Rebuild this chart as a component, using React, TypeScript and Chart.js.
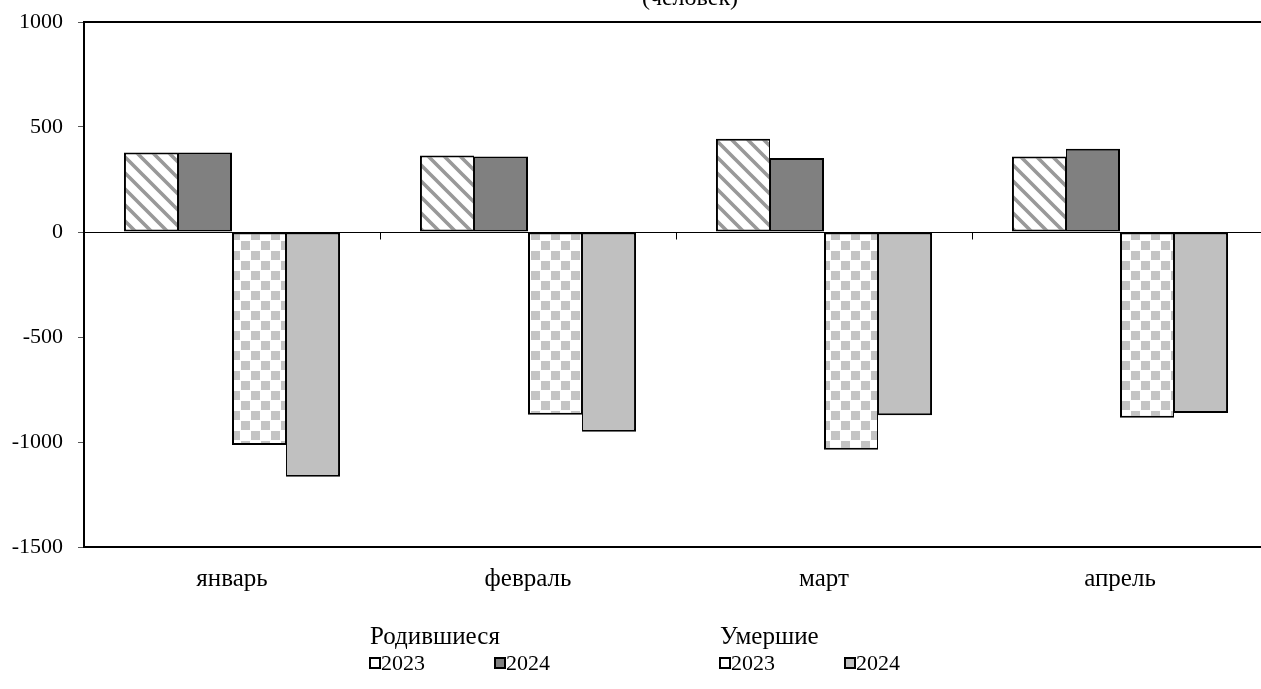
import React, { useEffect, useRef } from "react";
import { Chart, registerables } from "chart.js";

Chart.register(...registerables);

const categories = ["январь", "февраль", "март", "апрель"];
const births2023 = [379, 364, 444, 359];
const births2024 = [379, 359, 352, 397];
const deaths2023 = [-1014, -870, -1037, -884];
const deaths2024 = [-1165, -951, -873, -862];
const seriesLabels = ["2023", "2024", "2023", "2024"];
const groupTitles = ["Родившиеся", "Умершие"];
const unitTitle = "(человек)";
const yMin = -1500;
const yMax = 1000;
const yStep = 500;

const FONT = "'Liberation Serif', 'Times New Roman', serif";

function stripePattern(ctx: CanvasRenderingContext2D) {
  const c = document.createElement("canvas");
  const s = 16;
  c.width = s;
  c.height = s;
  const g = c.getContext("2d")!;
  g.fillStyle = "#ffffff";
  g.fillRect(0, 0, s, s);
  g.strokeStyle = "#999999";
  g.lineWidth = 3.6;
  g.beginPath();
  for (let k = -1; k <= 1; k++) {
    g.moveTo(k * s - 2, -2);
    g.lineTo(k * s + s + 2, s + 2);
  }
  g.stroke();
  return ctx.createPattern(c, "repeat")!;
}

function checkerPattern(ctx: CanvasRenderingContext2D) {
  const c = document.createElement("canvas");
  const s = 10;
  c.width = s * 2;
  c.height = s * 2;
  const g = c.getContext("2d")!;
  g.fillStyle = "#ffffff";
  g.fillRect(0, 0, s * 2, s * 2);
  g.fillStyle = "#c4c4c4";
  g.fillRect(1, 1, s - 1, s - 1);
  g.fillRect(s + 1, s + 1, s - 1, s - 1);
  return ctx.createPattern(c, "repeat")!;
}

const decorPlugin = {
  id: "decor",
  afterDatasetsDraw(chart: any) {
    const { ctx, chartArea: a, scales } = chart;
    const xs = scales.x;
    const ys = scales.y;
    ctx.save();
    const y0 = Math.round(ys.getPixelForValue(0)) + 0.5;
    ctx.strokeStyle = "#000";
    ctx.lineWidth = 1;
    ctx.beginPath();
    for (let i = 0; i < categories.length - 1; i++) {
      const px = Math.round((xs.getPixelForValue(i) + xs.getPixelForValue(i + 1)) / 2) + 0.5;
      ctx.moveTo(px, y0);
      ctx.lineTo(px, y0 + 7);
    }
    ctx.stroke();
    ctx.lineWidth = 2;
    ctx.strokeRect(a.left, a.top, a.right - a.left, a.bottom - a.top);
    ctx.restore();
  },
  afterDraw(chart: any) {
    const { ctx, chartArea: a } = chart;
    ctx.save();
    ctx.fillStyle = "#000";
    ctx.font = `24px ${FONT}`;
    ctx.textAlign = "center";
    ctx.textBaseline = "alphabetic";
    ctx.fillText(unitTitle, (a.left + a.right) / 2 + 14, 5);

    const groupX = [370, 720];
    const itemDX = 125;
    const headY = 637;
    const rowY = 663;
    ctx.textAlign = "left";
    ctx.textBaseline = "middle";
    ctx.font = `25px ${FONT}`;
    groupTitles.forEach((t, gi) => {
      ctx.fillStyle = "#000";
      ctx.fillText(t, groupX[gi], headY);
    });
    ctx.font = `22px ${FONT}`;
    chart.data.datasets.forEach((ds: any, i: number) => {
      const gi = Math.floor(i / 2);
      const bx = groupX[gi] + (i % 2) * itemDX;
      const bs = 10;
      const by = rowY - bs / 2;
      const bg = ds.backgroundColor;
      ctx.fillStyle = typeof bg === "string" ? bg : "#ffffff";
      ctx.fillRect(bx, by, bs, bs);
      ctx.strokeStyle = "#000";
      ctx.lineWidth = 2;
      ctx.strokeRect(bx, by, bs, bs);
      ctx.fillStyle = "#000";
      ctx.fillText(ds.label, bx + bs + 1, rowY + 1);
    });
    ctx.restore();
  },
};

export default function App() {
  const ref = useRef<HTMLCanvasElement | null>(null);

  useEffect(() => {
    document.body.style.margin = "0";
    const canvas = ref.current!;
    const ctx = canvas.getContext("2d")!;
    const stripes = stripePattern(ctx);
    const checker = checkerPattern(ctx);
    const chart = new Chart(canvas, {
      type: "bar",
      data: {
        labels: categories,
        datasets: [
          {
            label: seriesLabels[0],
            data: births2023,
            backgroundColor: stripes as any,
            borderColor: "#000",
            borderWidth: { top: 2, bottom: 2, left: 2, right: 1 },
            borderSkipped: false,
          },
          {
            label: seriesLabels[1],
            data: births2024,
            backgroundColor: "#808080",
            borderColor: "#000",
            borderWidth: { top: 2, bottom: 2, left: 1, right: 2 },
            borderSkipped: false,
          },
          {
            label: seriesLabels[2],
            data: deaths2023,
            backgroundColor: checker as any,
            borderColor: "#000",
            borderWidth: { top: 2, bottom: 2, left: 2, right: 1 },
            borderSkipped: false,
          },
          {
            label: seriesLabels[3],
            data: deaths2024,
            backgroundColor: "#c0c0c0",
            borderColor: "#000",
            borderWidth: { top: 2, bottom: 2, left: 1, right: 2 },
            borderSkipped: false,
          },
        ] as any,
      },
      options: {
        animation: false,
        responsive: false,
        devicePixelRatio: 1,
        layout: { padding: { top: 22, right: 12, bottom: 82, left: 0 } },
        datasets: {
          bar: { categoryPercentage: 0.73, barPercentage: 1.0 },
        } as any,
        plugins: {
          legend: { display: false },
          title: { display: false },
          tooltip: { enabled: false },
        },
        scales: {
          x: {
            grid: { display: false, drawTicks: false },
            border: { display: false },
            ticks: {
              color: "#000",
              font: { family: FONT, size: 25 },
              padding: 17,
            },
            afterFit(scale: any) {
              scale.height = 60;
              scale.paddingLeft = 0;
              scale.paddingRight = 0;
            },
          },
          y: {
            min: yMin,
            max: yMax,
            ticks: {
              stepSize: yStep,
              color: "#000",
              font: { family: FONT, size: 22 },
              padding: 15,
              callback: (v: any) => String(v),
            },
            grid: {
              color: (c: any) => (c.tick && c.tick.value === 0 ? "#000" : "rgba(0,0,0,0)"),
              tickColor: "#555",
              tickLength: 6,
              lineWidth: 1,
            },
            border: { display: false },
            afterFit(scale: any) {
              scale.width = 84;
              scale.paddingTop = 0;
              scale.paddingBottom = 0;
            },
          },
        },
      },
      plugins: [decorPlugin],
    });
    return () => chart.destroy();
  }, []);

  return (
    <div style={{ position: "relative", width: 1261, height: 689, overflow: "hidden", background: "#fff" }}>
      <canvas
        ref={ref}
        width={1280}
        height={689}
        style={{ position: "absolute", left: 0, top: 0, width: 1280, height: 689 }}
      />
    </div>
  );
}
